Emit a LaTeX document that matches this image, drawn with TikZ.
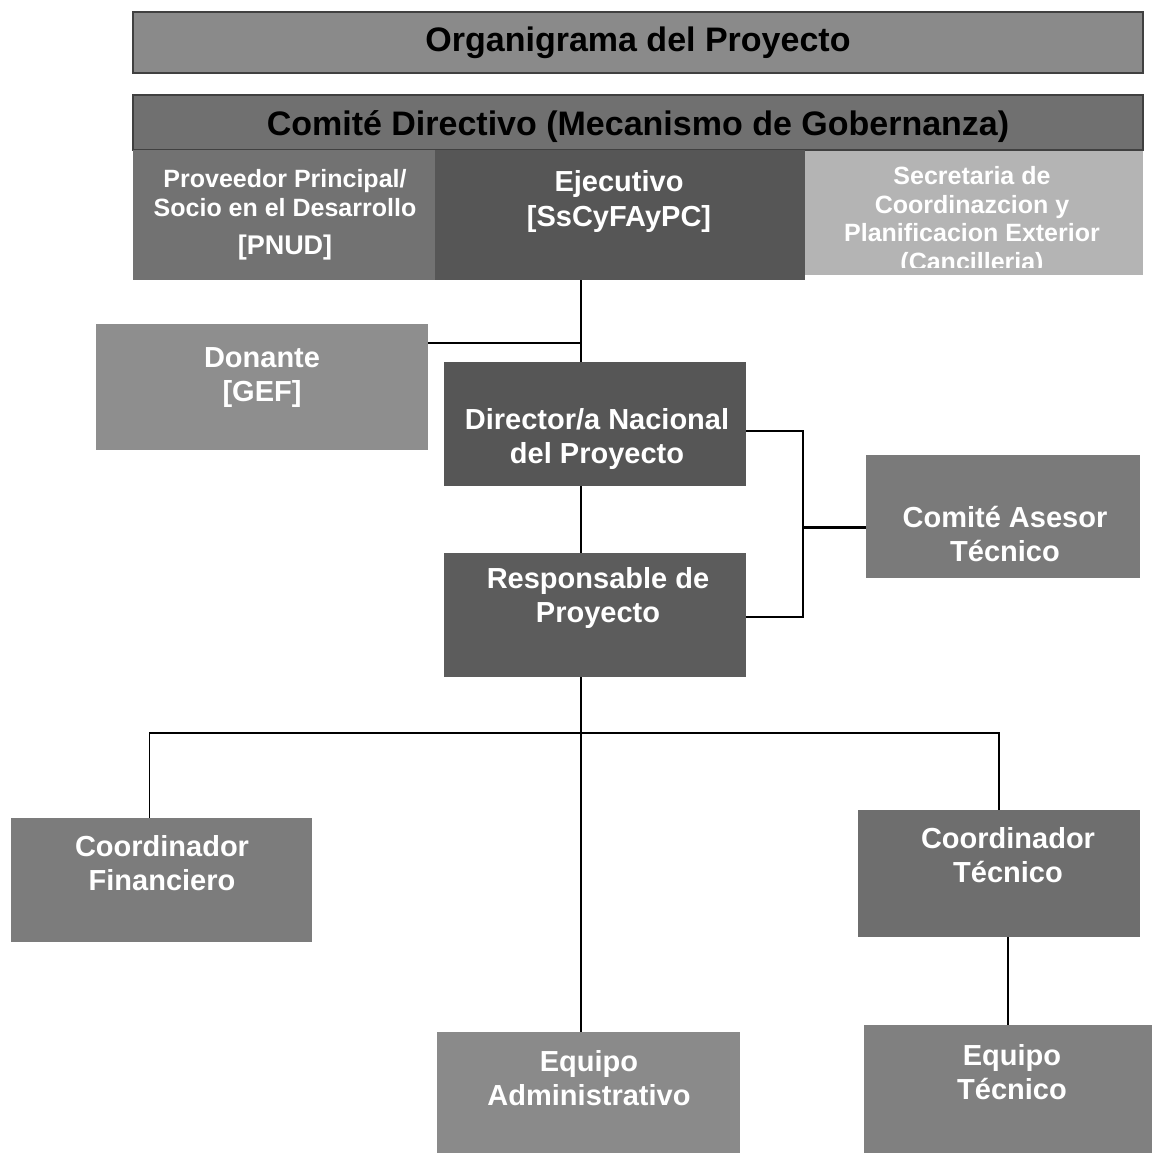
\documentclass[tikz,border=0pt]{standalone}
\usepackage{fontspec}
\setmainfont{Liberation Sans}
\usetikzlibrary{calc}

\definecolor{cTitle}{RGB}{138,138,138}
\definecolor{cHead}{RGB}{112,112,112}
\definecolor{cProv}{RGB}{114,114,114}
\definecolor{cEjec}{RGB}{86,86,86}
\definecolor{cSecr}{RGB}{180,180,180}
\definecolor{cDon}{RGB}{142,142,142}
\definecolor{cDir}{RGB}{86,86,86}
\definecolor{cResp}{RGB}{92,92,92}
\definecolor{cAses}{RGB}{122,122,122}
\definecolor{cFin}{RGB}{124,124,124}
\definecolor{cTec}{RGB}{110,110,110}
\definecolor{cAdm}{RGB}{138,138,138}
\definecolor{cEqT}{RGB}{128,128,128}

\begin{document}
\begin{tikzpicture}[x=1pt, y=-1pt,
    box/.style={rectangle, inner sep=0pt, draw=none},
    lbl/.style={text=white, align=center, inner sep=0pt, font=\bfseries\fontsize{29}{34}\selectfont},
    head/.style={text=black, inner sep=0pt, font=\bfseries\fontsize{34}{40}\selectfont},
    link/.style={line width=1.3pt},
    heavy/.style={line width=2.4pt}]
    % 1 unit = 1 pixel of the page, y grows downwards
    \useasboundingbox (0,0) rectangle (1155,1155);
    \def\sx{581}    % x of the main spine
    \def\by{733}    % y of the bottom bus
    \def\bx{803}    % x of the bracket to the advisory committee

    % Title bar
    \node[box, fill=cTitle, draw=black!75, line width=1.2pt, minimum width=1010, minimum height=61] (title) at (638,42.5) {};
    \node[head] (title-t) at (638,43) {Organigrama del Proyecto};

    % Steering committee: header band and its three members
    \node[box, fill=cHead, draw=black!75, line width=1.2pt, minimum width=1010, minimum height=55] (head) at (638,122.5) {};
    \node[head] (head-t) at (638,127) {Comité Directivo (Mecanismo de Gobernanza)};
    \node[box, fill=cProv, minimum width=302, minimum height=130] (prov) at (284,215) {};
    \node[box, fill=cEjec, minimum width=370, minimum height=130] (ejec) at (620,215) {};
    \node[box, fill=cSecr, minimum width=338, minimum height=124] (secr) at (974,213) {};
    \node[lbl, font=\bfseries\fontsize{25}{29}\selectfont] (prov-t) at (285,215)
        {Proveedor Principal/\\Socio en el Desarrollo\\[9pt]{\fontsize{27}{31}\selectfont [PNUD]}};
    \node[lbl, font=\bfseries\fontsize{29}{35}\selectfont] (ejec-t) at (619,202) {Ejecutivo\\{}[SsCyFAyPC]};
    \begin{scope}
        \clip (805,150) rectangle (1143,268);
        \node[lbl, font=\bfseries\fontsize{25}{28.5}\selectfont] (secr-t) at (972,221)
            {Secretaria de\\Coordinazcion y\\Planificacion Exterior\\(Cancilleria)};
    \end{scope}

    % Donor, national director, project manager, advisory committee
    \node[box, fill=cDon, minimum width=332, minimum height=126] (don) at (262,387) {};
    \node[lbl] (don-t) at (262,378) {Donante\\{}[GEF]};
    \node[box, fill=cDir, minimum width=302, minimum height=124] (dir) at (595,424) {};
    \node[lbl] (dir-t) at (597,439) {Director/a Nacional\\del Proyecto};
    \node[box, fill=cResp, minimum width=302, minimum height=124] (resp) at (595,615) {};
    \node[lbl] (resp-t) at (598,598) {Responsable de\\Proyecto};
    \node[box, fill=cAses, minimum width=274, minimum height=123] (ases) at (1003,516.5) {};
    \node[lbl] (ases-t) at (1005,534) {Comité Asesor\\Técnico};

    % Bottom level
    \node[box, fill=cFin, minimum width=301, minimum height=124] (cfin) at (161.5,880) {};
    \node[lbl] (cfin-t) at (162,863) {Coordinador\\Financiero};
    \node[box, fill=cTec, minimum width=282, minimum height=127] (ctec) at (999,873.5) {};
    \node[lbl] (ctec-t) at (1008,855) {Coordinador\\Técnico};
    \node[box, fill=cAdm, minimum width=303, minimum height=121] (eqadm) at (588.5,1092.5) {};
    \node[lbl] (eqadm-t) at (589,1078) {Equipo\\Administrativo};
    \node[box, fill=cEqT, minimum width=288, minimum height=128] (eqtec) at (1008,1089) {};
    \node[lbl] (eqtec-t) at (1012,1072) {Equipo\\Técnico};

    % Connectors
    \coordinate (sp) at (\sx,0);
    \coordinate (dj) at (\sx,343);
    \coordinate (bus) at (\sx,\by);
    \coordinate (brk) at (\bx,0);
    \draw[link] (ejec.south -| sp) -- (dir.north -| sp);
    \draw[heavy] (don.east |- dj) -- (dj);
    \draw[link] (dir.south -| sp) -- (resp.north -| sp);
    \draw[link] ([yshift=-7pt]dir.east) -- ([yshift=-7pt]dir.east -| brk) |- ([yshift=-2pt]resp.east);
    \draw[heavy] ([yshift=-11pt]ases.west) -- ([yshift=-11pt]ases.west -| brk);
    \draw[link] (resp.south -| sp) -- (bus);
    \draw[link] ($(cfin.north)+(-12,0)$) |- (bus) -| (ctec.north);
    \draw[link] (bus) -- (eqadm.north -| sp);
    \draw[link] (ctec.south -| eqtec.north) -- (eqtec.north);
\end{tikzpicture}
\end{document}
